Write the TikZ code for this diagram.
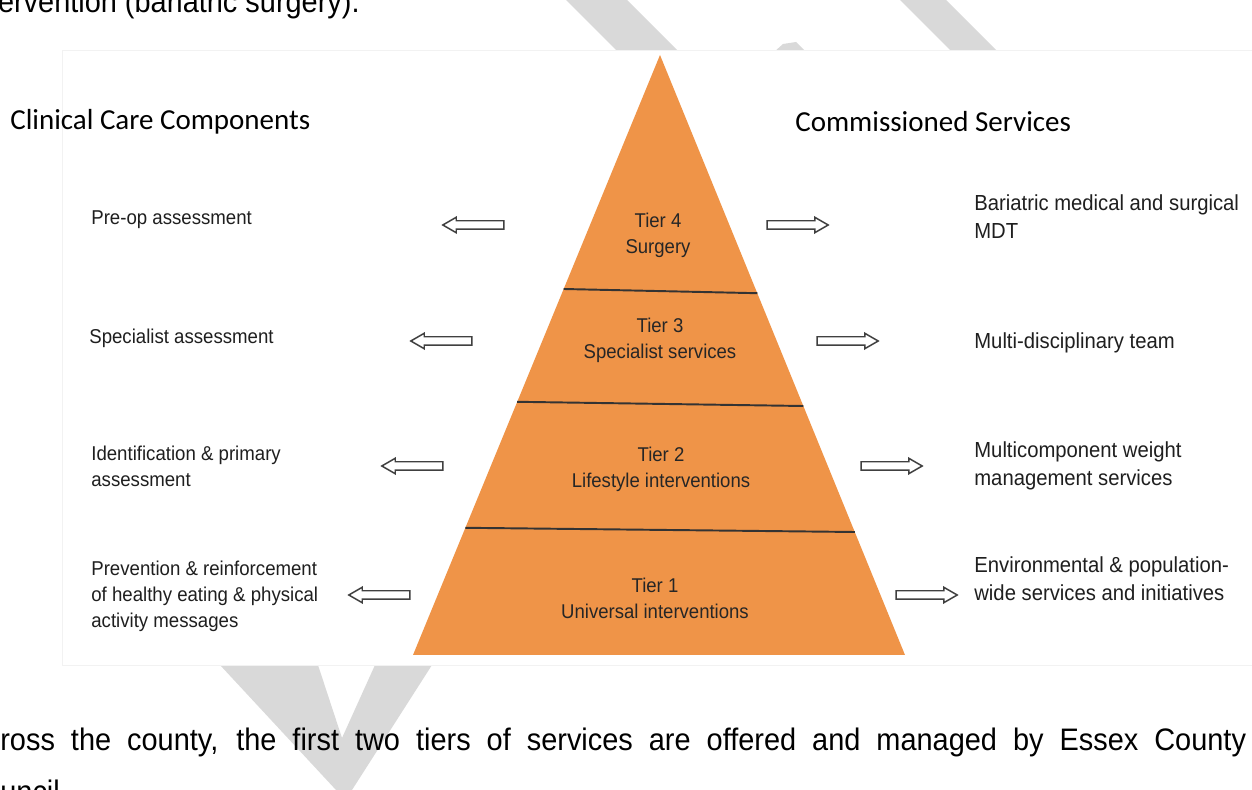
\documentclass[tikz,border=0pt]{standalone}
\usepackage{fontspec}
\setmainfont{Liberation Sans}[FakeStretch=0.93]
\newfontfamily\headfont{Carlito}
\usetikzlibrary{shapes.arrows,calc}
\definecolor{tierorange}{RGB}{239,148,72}
\definecolor{draftgray}{RGB}{217,217,217}

\begin{document}
\begin{tikzpicture}[x=0.02cm,y=-0.02cm,
  tier/.style={align=center,inner sep=0pt,font=\fontsize{11.35}{14.7}\selectfont,text=black!85},
  care/.style={anchor=west,align=left,inner sep=0pt,font=\fontsize{11.4}{14.7}\selectfont,text=black!88},
  service/.style={anchor=west,align=left,inner sep=0pt,font=\fontsize{12.4}{15.9}\selectfont,text=black!88},
  heading/.style={anchor=west,inner sep=0pt,font=\headfont\fontsize{16.5}{20}\selectfont},
  pagetext/.style={inner sep=0pt,font=\fontsize{17.7}{22}\selectfont},
  tierarrow/.style={shape=single arrow,draw=black!75,fill=white,line width=0.85pt,
    inner xsep=0pt,inner ysep=0.07cm,single arrow head extend=0.07cm,
    single arrow tip angle=60,minimum height=1.22cm},
  tierline/.style={draw=black!80,line width=1.1pt}]
  \clip (0,0) rectangle (1252,790);

  % watermark strokes behind the figure
  \fill[draftgray] (566,0) -- (627,0) -- (677,50) -- (616,50) -- cycle;
  \fill[draftgray] (774,52) -- (783,44) -- (796,42) -- (806,52) -- cycle;
  \fill[draftgray] (900,0) -- (946,0) -- (996,50) -- (950,50) -- cycle;
  \fill[draftgray] (220,665) -- (318,665) -- (342,738) -- (375,665) -- (432,665)
    -- (352,790) -- (336,790) -- cycle;

  % figure panel
  \filldraw[fill=white,draw=black!5] (62,50) rectangle (1252,665);

  % pyramid
  \coordinate (apex) at (660,55);
  \coordinate (bl) at (413,655);
  \coordinate (br) at (905,655);
  \fill[tierorange] (apex) -- (br) -- (bl) -- cycle;
  \foreach \a/\b in {0.390/0.397,0.578/0.585,0.788/0.795}
    \draw[tierline] ($(apex)!\a!(bl)$) -- ($(apex)!\b!(br)$);

  \node[tier] (t4) at (658,235) {Tier 4\\Surgery};
  \node[tier] (t3) at (660,340) {Tier 3\\Specialist services};
  \node[tier] (t2) at (661,469) {Tier 2\\Lifestyle interventions};
  \node[tier] (t1) at (655,598) {Tier 1\\Universal interventions};

  % column headings
  \node[heading] (care) at (10,122) {Clinical Care Components};
  \node[heading] (services) at (795,122) {Commissioned Services};

  % left column
  \node[care] (c4) at (91,220) {Pre-op assessment};
  \node[care] (c3) at (89,338) {Specialist assessment};
  \node[care] (c2) at (91,466) {Identification \& primary\\assessment};
  \node[care] (c1) at (91,596) {Prevention \& reinforcement\\of healthy eating \& physical\\activity messages};

  % right column
  \node[service] (s4) at (974,217) {Bariatric medical and surgical\\MDT};
  \node[service] (s3) at (974,343) {Multi-disciplinary team};
  \node[service] (s2) at (974,466) {Multicomponent weight\\management services};
  \node[service] (s1) at (974,579) {Environmental \& population-\\wide services and initiatives};

  % hollow arrows
  \node[tierarrow,shape border rotate=180] (a4l) at (477,225) {};
  \node[tierarrow,shape border rotate=180] (a3l) at (445,341) {};
  \node[tierarrow,shape border rotate=180] (a2l) at (416,466) {};
  \node[tierarrow,shape border rotate=180] (a1l) at (383,595) {};
  \node[tierarrow] (a4r) at (794,225) {};
  \node[tierarrow] (a3r) at (844,341) {};
  \node[tierarrow] (a2r) at (888,466) {};
  \node[tierarrow] (a1r) at (923,595) {};

  % surrounding page text
  \node[pagetext,anchor=base east] (pagetop) at (360,13) {ervention (bariatric surgery).};
  \node[pagetext,anchor=base west] (pagebottom) at (0,750)
    {\makebox[24.92cm][s]{ross the county, the first two tiers of services are offered and managed by Essex County}};
  \node[pagetext,anchor=base west] (pagenext) at (0,802) {uncil};
\end{tikzpicture}
\end{document}
